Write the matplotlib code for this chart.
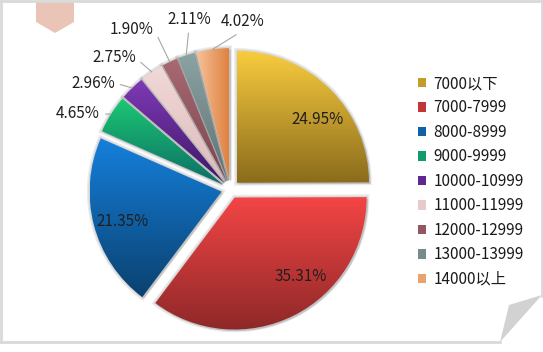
import numpy as np
import matplotlib
matplotlib.use('Agg')
import matplotlib.pyplot as plt
import matplotlib.patheffects as pe
from matplotlib.patches import Polygon, Rectangle
from matplotlib.colors import to_rgb

plt.rcParams['font.family'] = ['Noto Sans CJK SC', 'DejaVu Sans']

# 数据
labels = ['7000以下', '7000-7999', '8000-8999', '9000-9999', '10000-10999',
          '11000-11999', '12000-12999', '13000-13999', '14000以上']
shares = [24.95, 35.31, 21.35, 4.65, 2.96, 2.75, 1.90, 2.11, 4.02]

# 每块的渐变色 (亮 -> 暗)
light = ['#F9CC3E', '#F44545', '#1580DC', '#1CC873', '#7E3AB6',
         '#F2D8D8', '#A96A72', '#8CA3A3', '#F6C39B']
dark = ['#8A6B1C', '#8E2828', '#0A416F', '#0C6E66', '#3F1667',
        '#DDBBBB', '#7A4450', '#5F7272', '#DF8240']
horiz = [False] * 8 + [True]

W, H = 543, 352


def py(y):  # 像素y -> 数据y
    return H - y


def grad(c1, c2, horizontal=False, n=256):
    t = np.linspace(0, 1, n)[:, None]
    arr = (1 - t) * np.array(to_rgb(c1)) + t * np.array(to_rgb(c2))
    return arr[None, :, :] if horizontal else arr[:, None, :]


fig = plt.figure(figsize=(W / 100, H / 100), dpi=100)
ax = fig.add_axes([0, 0, 1, 1])

R = 132
wedges, _ = ax.pie(shares, explode=[9.2] * len(shares), startangle=90,
                   counterclock=False, center=(230.5, py(189.3)), radius=R,
                   wedgeprops=dict(facecolor='none', edgecolor='none'))

for i, w in enumerate(wedges):
    w.set_zorder(1)
    w.set_path_effects([
        pe.Stroke(linewidth=4, foreground='#000000', alpha=0.08),
        pe.Stroke(linewidth=2, foreground='#000000', alpha=0.08),
        pe.SimplePatchShadow(offset=(1.2, -1.2), shadow_rgbFace='#9a9a9a', alpha=0.4),
    ])
    bb = w.get_path().get_extents()
    im = ax.imshow(grad(light[i], dark[i], horiz[i]),
                   extent=(bb.x0, bb.x1, bb.y0, bb.y1), origin='upper',
                   aspect='auto', interpolation='bilinear', zorder=2)
    im.set_clip_path(w)

# 大块的标签 (放在块内)
shift = [-7, 13, 2]
for i in range(3):
    w = wedges[i]
    a = np.deg2rad((w.theta1 + w.theta2) / 2 + shift[i])
    ax.text(w.center[0] + 0.78 * R * np.cos(a), w.center[1] + 0.78 * R * np.sin(a),
            f'{shares[i]:.2f}%', ha='center', va='center', fontsize=11,
            color='#1f1f1f', zorder=5)

# 小块的标签 (引导线)
label_xy = [(78, 114), (93, 83), (114, 58), (132, 29), (189, 19), (243, 22)]
relpos = [(1, 0.5)] * 4 + [(0.5, 0), (0.5, 0)]
for k, i in enumerate(range(3, 9)):
    w = wedges[i]
    a = np.deg2rad((w.theta1 + w.theta2) / 2)
    edge = (w.center[0] + R * np.cos(a), w.center[1] + R * np.sin(a))
    lx, ly = label_xy[k]
    ax.annotate(f'{shares[i]:.2f}%', xy=edge, xytext=(lx, py(ly)),
                ha='center', va='center', fontsize=11, color='#1f1f1f', zorder=5,
                arrowprops=dict(arrowstyle='-', color='#A6A6A6', lw=0.8,
                                shrinkA=2, shrinkB=0, relpos=relpos[k]))

# 图例
mid = [tuple((np.array(to_rgb(a)) + np.array(to_rgb(b))) / 2) for a, b in zip(light, dark)]
handles = [Rectangle((0, 0), 1, 1, facecolor=c, edgecolor='none') for c in mid]
ax.legend(handles, labels, loc='upper left', bbox_to_anchor=(418 / W, 1 - 75 / H),
          frameon=False, fontsize=11, handlelength=0.55, handleheight=0.55,
          handletextpad=0.45, labelspacing=0.49, borderpad=0, borderaxespad=0,
          labelcolor='#1a1a1a')

# 装饰: 书签, 边框, 卷角
ax.add_patch(Polygon([(36, py(2)), (74, py(2)), (74, py(22)), (55, py(33)), (36, py(22))],
                     closed=True, facecolor='#EBC4B8', edgecolor='none', zorder=3))
fc = '#D9D9D9'
ax.plot([0, W], [py(1), py(1)], color=fc, lw=2, zorder=4, clip_on=False)
ax.plot([1, 1], [py(0), py(342)], color=fc, lw=2, zorder=4, clip_on=False)
ax.plot([0, 500], [py(342), py(342)], color=fc, lw=2, zorder=4, clip_on=False)
ax.plot([542, 542], [py(0), py(296)], color=fc, lw=2, zorder=4, clip_on=False)
ax.add_patch(Polygon([(509, py(305)), (542, py(295)), (500, py(342))],
                     closed=True, facecolor='#D2D2D2', edgecolor='none', zorder=3))

ax.set_xlim(0, W)
ax.set_ylim(0, H)
ax.set_aspect('equal')
ax.axis('off')

fig.savefig('out.png', dpi=100)
